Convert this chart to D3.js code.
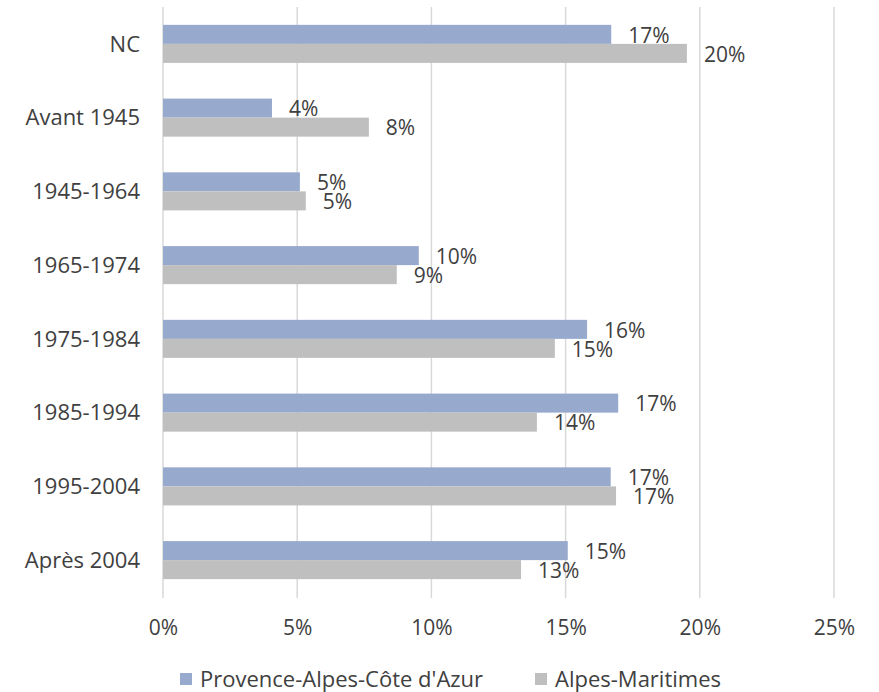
<!DOCTYPE html>
<html><head><meta charset="utf-8">
<script src="https://cdn.jsdelivr.net/npm/d3@7"></script>
<style>body{margin:0;background:#fff}svg{display:block}</style>
</head><body>
<svg id="c" width="879" height="692"></svg>
<script>
const categories = ["NC","Avant 1945","1945-1964","1965-1974","1975-1984","1985-1994","1995-2004","Après 2004"];
const seriesNames = ["Provence-Alpes-Côte d'Azur","Alpes-Maritimes"];
const paca = [16.7, 4.06, 5.1, 9.53, 15.8, 16.96, 16.68, 15.08];
const am = [19.52, 7.67, 5.32, 8.71, 14.6, 13.93, 16.88, 13.34];
const xTicks = [0,5,10,15,20,25];
const colors = ["#97A9CD","#BFBFBF"];

const svg = d3.select("#c");
const font = "'Open Sans', Roboto, sans-serif";
const fs = 22;
const textColor = "#404040";
const x = d3.scaleLinear().domain([0,25]).range([163,834]);
const y = d3.scaleBand().domain(categories).range([7,597]).paddingInner(0.484).paddingOuter(0.242);
const inner = d3.scaleBand().domain([0,1]).range([0,y.bandwidth()]);

// gridlines
svg.append("g").selectAll("line").data(xTicks).join("line")
  .attr("x1",d=>x(d)).attr("x2",d=>x(d)).attr("y1",7).attr("y2",598)
  .attr("stroke","#D9D9D9").attr("stroke-width",1.5);

// x axis labels
const xAxis = d3.axisBottom(x).tickValues(xTicks).tickFormat(d=>d+"%").tickSize(0).tickPadding(0);
const gx = svg.append("g").attr("transform","translate(0,628)").call(xAxis);
gx.select(".domain").remove();
gx.selectAll("text").attr("font-family",font).attr("font-size",fs-1).attr("fill",textColor).attr("dy","0.35em").attr("y",0);

// y axis labels
const yAxis = d3.axisLeft(y).tickSize(0).tickPadding(0);
const gy = svg.append("g").attr("transform","translate(140,0)").call(yAxis);
gy.select(".domain").remove();
gy.selectAll("text").attr("font-family",font).attr("font-size",fs).attr("fill",textColor).attr("dy","0.35em").attr("x",0);

const series = [paca, am];
series.forEach((vals,si)=>{
  const g = svg.append("g");
  g.selectAll("rect").data(vals).join("rect")
    .attr("x",x(0)).attr("y",(d,i)=>y(categories[i])+inner(si))
    .attr("width",d=>x(d)-x(0)).attr("height",inner.bandwidth())
    .attr("fill",colors[si]);
  g.selectAll("text").data(vals).join("text")
    .attr("x",d=>x(d)+17).attr("y",(d,i)=>y(categories[i])+inner(si)+inner.bandwidth()/2+1)
    .attr("dy","0.35em").attr("font-family",font).attr("font-size",fs-1).attr("fill",textColor)
    .text(d=>Math.round(d)+"%");
});

// legend
const leg = svg.append("g");
const legX = [180, 535];
seriesNames.forEach((n,i)=>{
  leg.append("rect").attr("x",legX[i]).attr("y",673).attr("width",12).attr("height",12).attr("fill",colors[i]);
  leg.append("text").attr("x",legX[i]+20).attr("y",679).attr("dy","0.35em")
    .attr("font-family",font).attr("font-size",fs).attr("fill",textColor).text(n);
});
</script>
</body></html>
